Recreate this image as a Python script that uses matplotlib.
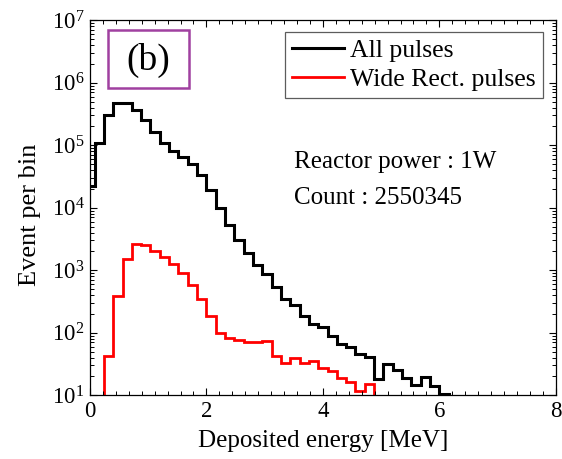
import numpy as np
import matplotlib
matplotlib.use("Agg")
import matplotlib.pyplot as plt
from matplotlib.ticker import AutoMinorLocator, LogLocator, NullFormatter
from matplotlib.patches import Rectangle

plt.rcParams['font.family'] = ['Liberation Serif', 'DejaVu Serif']
plt.rcParams['mathtext.fontset'] = 'custom'
plt.rcParams['mathtext.rm'] = 'Liberation Serif'
plt.rcParams['mathtext.it'] = 'Liberation Serif:italic'

# histogram data (bin width 0.16 MeV, first bin centred at 0)
bin_width = 0.16
all_pulses = [2.25e4, 1.1e5, 3.0e5, 4.8e5, 4.75e5, 3.7e5, 2.5e5, 1.65e5, 1.1e5,
              8.2e4, 6.4e4, 5.0e4, 3.3e4, 1.95e4, 1.0e4, 5.3e3, 3.06e3, 1.88e3,
              1.22e3, 860, 545, 350, 278, 185, 140, 124, 90, 66, 58, 45, 41,
              18.5, 31, 25, 19, 14.7, 19.5, 14, 10.3, 9, 7]
wide_rect = [1, 43, 387, 1500, 2600, 2550, 2040, 1640, 1250, 916, 580, 351,
             185, 100, 82, 77, 72, 70, 75, 43, 33, 39, 33, 35, 27, 24, 19, 16,
             11.5, 15, 1]
wide_first_bin = 1  # red series starts at the second bin

series_labels = ['All pulses', 'Wide Rect. pulses']
info_lines = ['Reactor power : 1W', 'Count : 2550345']
panel_tag = '(b)'

fig = plt.figure(figsize=(5.62, 4.59), dpi=100)
ax = fig.add_axes([0.160, 0.139, 0.829, 0.817])

edges_all = (np.arange(len(all_pulses) + 1) - 0.5) * bin_width
edges_wide = (np.arange(len(wide_rect) + 1) + wide_first_bin - 0.5) * bin_width

ax.stairs(all_pulses, edges_all, baseline=None, color='black', lw=2.2,
          label=series_labels[0])
ax.stairs(wide_rect, edges_wide, baseline=None, color='red', lw=2.0,
          label=series_labels[1])

ax.set_yscale('log')
ax.set_xlim(0, 8)
ax.set_ylim(10, 1e7)
ax.set_xticks([0, 2, 4, 6, 8])
ax.xaxis.set_minor_locator(AutoMinorLocator(9))
ax.yaxis.set_major_locator(LogLocator(base=10, numticks=10))
ax.yaxis.set_minor_locator(LogLocator(base=10, subs=np.arange(2, 10), numticks=20))
ax.yaxis.set_minor_formatter(NullFormatter())

ax.tick_params(which='both', direction='in', top=True, right=True, labelsize=16.5)
ax.tick_params(which='major', length=5, width=0.8, pad=4)
ax.tick_params(which='minor', length=2.8, width=0.7)
for s in ax.spines.values():
    s.set_linewidth(0.9)

ax.set_xlabel('Deposited energy [MeV]', fontsize=18, labelpad=6)
ax.set_ylabel('Event per bin', fontsize=19)
ax.yaxis.set_label_coords(-0.105, 0.48)

ax.text(0.438, 0.621, info_lines[0], transform=ax.transAxes, fontsize=18,
        va='center', ha='left')
ax.text(0.438, 0.525, info_lines[1], transform=ax.transAxes, fontsize=18,
        va='center', ha='left')

# panel tag box
ax.add_patch(Rectangle((0.0386, 0.819), 0.174, 0.154, transform=ax.transAxes,
                       fill=False, edgecolor='#A040A0', lw=1.8, zorder=5))
ax.text(0.1255, 0.893, panel_tag, transform=ax.transAxes, fontsize=27,
        ha='center', va='center')

leg = ax.legend(loc='upper right', bbox_to_anchor=(0.972, 0.968), fontsize=18.5,
                frameon=True, fancybox=False, edgecolor='#333333',
                handlelength=2.0, handletextpad=0.25, borderpad=0.28,
                labelspacing=0.2, borderaxespad=0)
leg.get_frame().set_linewidth(0.9)

fig.savefig('out.png', dpi=100)
